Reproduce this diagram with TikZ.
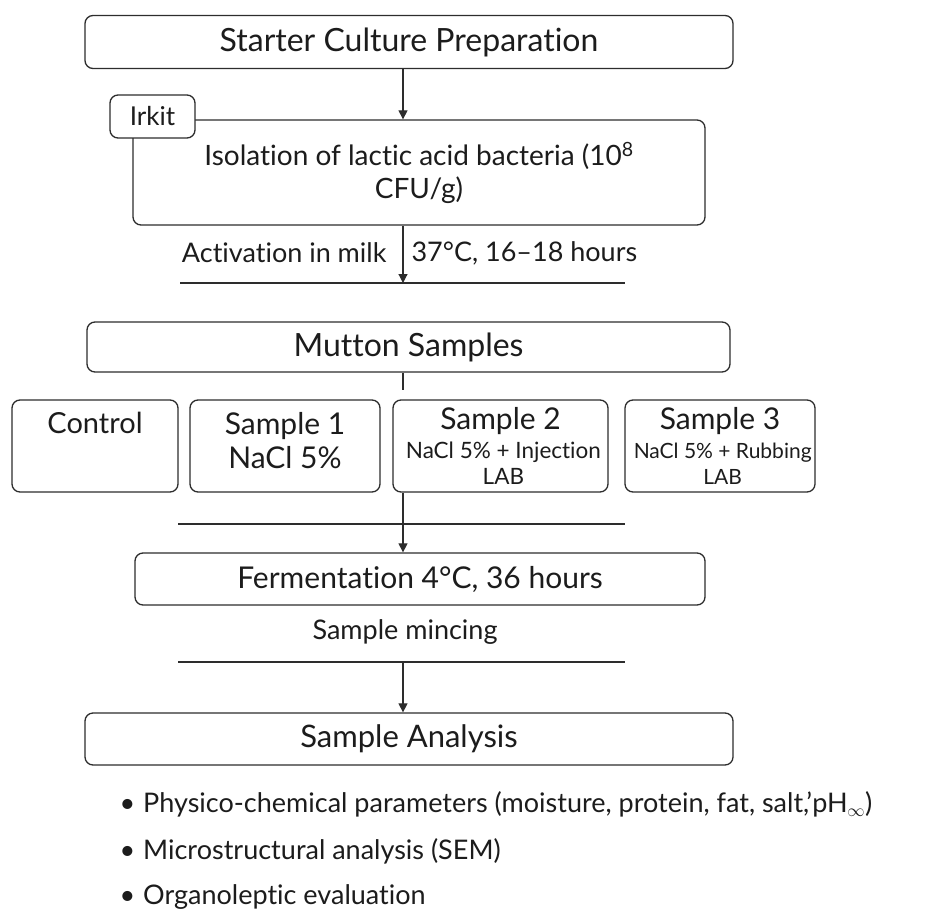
\documentclass[tikz,border=0pt]{standalone}
\usepackage{fontspec}
\setmainfont{Lato}[Ligatures={NoCommon}]
\usetikzlibrary{arrows.meta,positioning,calc}
\definecolor{ink}{RGB}{28,28,28}
\definecolor{wire}{RGB}{45,45,45}
\tikzset{
  >={Triangle[length=9pt,width=9pt]},
  box/.style={draw=wire,line width=1.3pt,rounded corners=8pt,fill=white,text=ink,
    align=center,inner sep=0pt},
  headbox/.style={box,minimum width=648pt,minimum height=53pt,font=\fontsize{31}{36}\selectfont},
  grp/.style={box,minimum height=92pt,font=\fontsize{30}{34}\selectfont},
  flow/.style={->,draw=wire,line width=1.2pt},
  rule/.style={draw=wire,line width=1.2pt},
  tag/.style={font=\fontsize{27}{32}\selectfont,text=ink},
  item/.style={anchor=west,font=\fontsize{27}{32}\selectfont,text=ink},
}
\newcommand{\subfnt}[1]{\fontsize{#1}{28}\selectfont}

\begin{document}
\begin{tikzpicture}[x=1pt,y=-1pt]
  \useasboundingbox (0,0) rectangle (941,920);
  \coordinate (ax) at (403,0);
  % starter culture
  \node[headbox,font=\fontsize{32}{36}\selectfont] (starter) at (409,42) {Starter Culture Preparation};
  \node[box,minimum width=572pt,minimum height=105pt,font=\fontsize{28}{33}\selectfont] (isolation) at (419,172.5)
    {Isolation of lactic acid bacteria (10\textsuperscript{8}\\CFU/g)};
  \node[box,minimum width=85pt,minimum height=43pt,font=\fontsize{26}{30}\selectfont] (irkit) at (152.5,116.5) {Irkit};
  \draw[flow] (starter.south -| ax) -- (isolation.north -| ax);
  \node[tag,anchor=east] (act) at (390,253) {Activation in milk};
  \node[tag,anchor=west] (cond) at (408,253) {37°C, 16–18 hours};
  \coordinate (r1a) at (180,283);
  \coordinate (r1b) at (625,283);
  \draw[rule] (r1a) -- (r1b);
  \draw[flow] (isolation.south -| ax) -- (r1a -| ax);
  % samples
  \node[headbox,minimum width=643pt,minimum height=50pt,font=\fontsize{32}{36}\selectfont] (mutton) at (408.5,347) {Mutton Samples};
  \coordinate (fork) at (403,390);
  \draw[rule] (mutton.south -| ax) -- (fork);
  \node[grp,minimum width=166pt,font=\fontsize{29}{34}\selectfont] (ctrl) at (95,446) {Control\\[12pt]\mbox{}};
  \node[grp,minimum width=190pt] (s1) at (285,446) {Sample 1\\NaCl 5\%\\[-22pt]\mbox{}};
  \node[grp,minimum width=215pt] (s2) at (500.5,446) {Sample 2\\[-5pt]{\subfnt{22.5} NaCl 5\% + Injection}\\[-8pt]{\subfnt{22.5} LAB}};
  \node[grp,minimum width=190pt] (s3) at (720,446) {Sample 3\\[-5pt]{\subfnt{21} NaCl 5\% + Rubbing}\\[-8pt]{\subfnt{21} LAB}};
  \coordinate (r2a) at (178,524);
  \coordinate (r2b) at (625,524);
  \draw[rule] (r2a) -- (r2b);
  % fermentation
  \node[headbox,minimum width=570pt,minimum height=52pt,font=\fontsize{30}{36}\selectfont] (ferment) at (420,579) {Fermentation 4°C, 36 hours};
  \draw[flow] (s2.south -| ax) -- (ferment.north -| ax);
  \node[tag] (mince) at (405,632) {Sample mincing};
  \coordinate (r3a) at (178,662);
  \coordinate (r3b) at (625,662);
  \draw[rule] (r3a) -- (r3b);
  % analysis
  \node[headbox,minimum height=52pt] (analysis) at (409,739) {Sample Analysis};
  \draw[flow] (r3a -| ax) -- (analysis.north -| ax);
  \foreach \t [count=\i] in {{Physico-chemical parameters (moisture, protein, fat, salt,'pH$_\infty$)},
    Microstructural analysis (SEM),Organoleptic evaluation}
    \node[item] (b\i) at (116,{758+\i*46.5}) {•\hspace{8pt}\t};
\end{tikzpicture}
\end{document}
